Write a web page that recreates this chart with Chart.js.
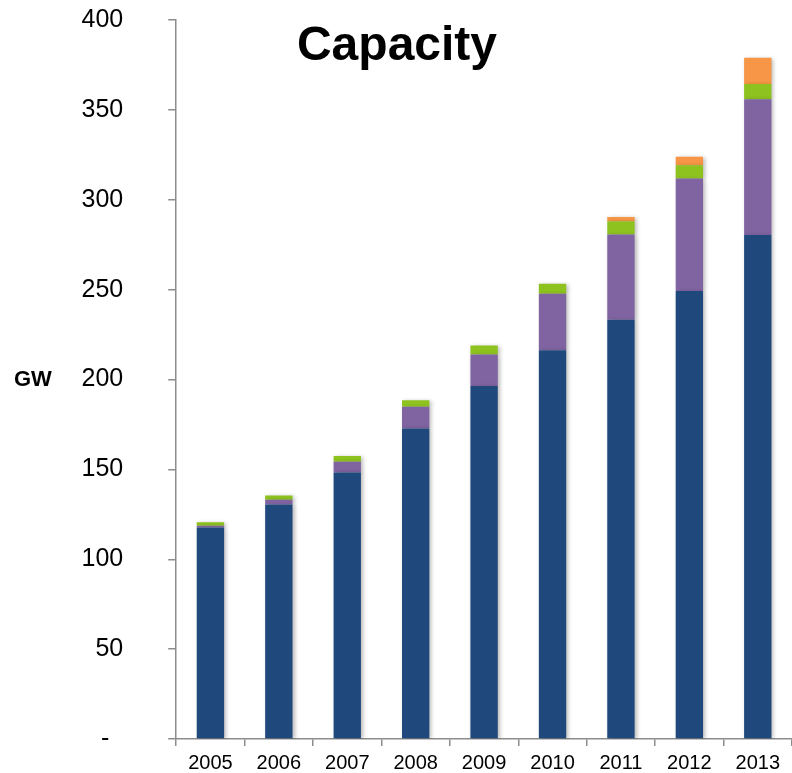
<!DOCTYPE html>
<html>
<head>
<meta charset="utf-8">
<script src="https://cdn.jsdelivr.net/npm/chart.js@4"></script>
<style>
  html, body { margin: 0; padding: 0; background: #fff; }
  #wrap { width: 792px; height: 773px; position: relative; }
</style>
</head>
<body>
<div id="wrap"><canvas id="capacity"></canvas></div>
<script>
// installed capacity per year, GW, stacked bottom to top
var years = ['2005', '2006', '2007', '2008', '2009', '2010', '2011', '2012', '2013'];
var base = [117.6, 130.4, 148.3, 172.8, 196.4, 216.3, 233.2, 249.2, 280.4];
var second = [1.1, 2.7, 5.9, 12.1, 17.5, 31.4, 47.4, 62.6, 75.5];
var third = [1.9, 2.4, 3.2, 3.5, 5.0, 5.6, 7.4, 7.4, 8.5];
var fourth = [0, 0, 0, 0, 0, 0, 2.4, 4.7, 14.6];
var yTicks = [0, 50, 100, 150, 200, 250, 300, 350, 400];

var font = '"Liberation Sans", Arial, sans-serif';
var axisGrey = '#8c8c8c';

// soft drop shadow under the bars
var barShadow = {
  id: 'barShadow',
  beforeDatasetsDraw: function(chart) {
    var ctx = chart.ctx;
    ctx.save();
    ctx.shadowColor = 'rgba(0,0,0,0.28)';
    ctx.shadowBlur = 4;
    ctx.shadowOffsetX = 2;
    ctx.shadowOffsetY = 1;
  },
  afterDatasetsDraw: function(chart) {
    chart.ctx.restore();
  }
};

// chart heading and the unit label beside the value axis
var labels = {
  id: 'labels',
  afterDraw: function(chart) {
    var ctx = chart.ctx;
    var y = chart.scales.y;
    ctx.save();
    ctx.fillStyle = '#000';
    ctx.font = 'bold 48px ' + font;
    ctx.textAlign = 'center';
    ctx.textBaseline = 'alphabetic';
    ctx.fillText('Capacity', 397, 60);
    ctx.font = 'bold 22px ' + font;
    ctx.textAlign = 'left';
    ctx.textBaseline = 'middle';
    ctx.fillText('GW', 14, y.getPixelForValue(200));
    ctx.restore();
  }
};

// the big tick padding should only push labels sideways, not shrink the plot
function noEdgePadding(scale) {
  scale.paddingTop = 0;
  scale.paddingBottom = 0;
  scale.paddingLeft = 0;
  scale.paddingRight = 0;
}

var colors = ['#1F497D', '#8064A2', '#8DC21F', '#F79646'];
var series = [base, second, third, fourth];

var ctx = document.getElementById('capacity').getContext('2d');
var chart = new Chart(ctx, {
  type: 'bar',
  data: {
    labels: years,
    datasets: series.map(function(values, i) {
      return {
        label: 'Series ' + (i + 1),
        data: values,
        backgroundColor: colors[i],
        borderWidth: 0,
        barPercentage: 0.4,
        categoryPercentage: 1
      };
    })
  },
  options: {
    responsive: true,
    maintainAspectRatio: false,
    animation: false,
    layout: { padding: { top: 20, right: 0, bottom: -7, left: 36.5 } },
    plugins: {
      legend: { display: false },
      tooltip: { enabled: false },
      title: { display: false }
    },
    scales: {
      x: {
        stacked: true,
        afterFit: noEdgePadding,
        grid: { offset: true, drawOnChartArea: false, drawTicks: true, tickLength: 7, color: axisGrey, lineWidth: 1.5 },
        border: { display: true, color: axisGrey, width: 1.5 },
        ticks: { color: '#000', font: { family: font, size: 20, lineHeight: 1.1 }, padding: 6, maxRotation: 0 }
      },
      y: {
        stacked: true,
        min: 0,
        max: 400,
        afterFit: noEdgePadding,
        afterBuildTicks: function(axis) {
          axis.ticks = yTicks.map(function(v) { return { value: v }; });
        },
        grid: { drawOnChartArea: false, drawTicks: true, tickLength: 8, color: axisGrey, lineWidth: 1.5 },
        border: { display: true, color: axisGrey, width: 1.5 },
        ticks: {
          color: '#000',
          font: { family: font, size: 25 },
          padding: 45,
          callback: function(v) { return v === 0 ? '-  ' : v; }
        }
      }
    }
  },
  plugins: [barShadow, labels]
});
</script>
</body>
</html>
